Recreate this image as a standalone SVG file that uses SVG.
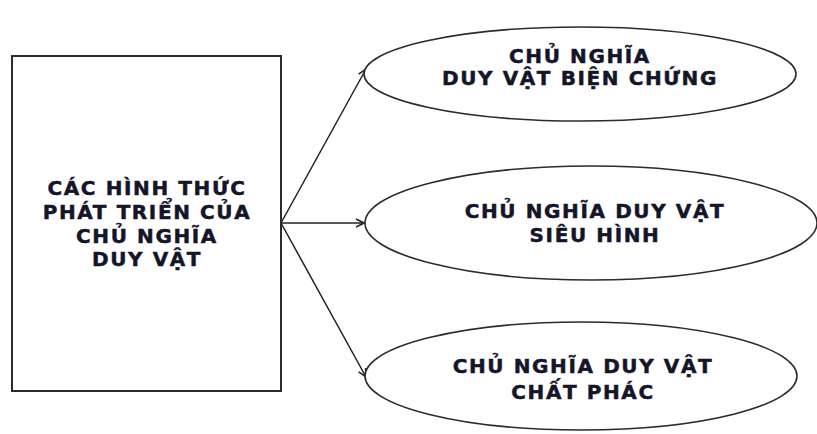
<svg xmlns="http://www.w3.org/2000/svg" width="817" height="434" viewBox="0 0 817 434">
  <style>
    .box { fill: #ffffff; stroke: #2b2b2b; stroke-width: 2; }
    .oval { fill: #ffffff; stroke: #2b2b2b; stroke-width: 1.6; }
    .label { font-family: "DejaVu Sans", Verdana, sans-serif; font-weight: bold; font-size: 20px; letter-spacing: 1.6px; fill: #15152a; stroke: #15152a; stroke-width: 0.5; text-anchor: middle; }
    .edge { fill: none; stroke: #222222; stroke-width: 1.5; marker-end: url(#arrow); }
  </style>
  <defs>
    <marker id="arrow" viewBox="0 0 10 10" refX="9" refY="5" markerWidth="10" markerHeight="10" markerUnits="userSpaceOnUse" orient="auto">
      <path d="M1,1 L9,5 L1,9" fill="none" stroke="#222222" stroke-width="1.6"/>
    </marker>
  </defs>

  <rect width="817" height="434" fill="#ffffff"/>

  <g id="connectors">
    <line class="edge" x1="281" y1="223" x2="366" y2="69"/>
    <line class="edge" x1="281" y1="223" x2="364" y2="223"/>
    <line class="edge" x1="281" y1="223" x2="366" y2="377"/>
  </g>

  <g id="root">
    <rect class="box" x="12" y="56" width="269" height="335"/>
    <text class="label" x="147" y="195">CÁC HÌNH THỨC</text>
    <text class="label" x="147" y="219">PHÁT TRIỂN CỦA</text>
    <text class="label" x="147" y="243">CHỦ NGHĨA</text>
    <text class="label" x="147" y="266">DUY VẬT</text>
  </g>

  <g id="dialectical">
    <ellipse class="oval" cx="580" cy="74" rx="216" ry="47"/>
    <text class="label" x="580" y="63">CHỦ NGHĨA</text>
    <text class="label" x="580" y="85">DUY VẬT BIỆN CHỨNG</text>
  </g>

  <g id="metaphysical">
    <ellipse class="oval" cx="591" cy="223" rx="226" ry="57"/>
    <text class="label" x="595" y="218">CHỦ NGHĨA DUY VẬT</text>
    <text class="label" x="595" y="242">SIÊU HÌNH</text>
  </g>

  <g id="naive">
    <ellipse class="oval" cx="581" cy="376" rx="216" ry="54"/>
    <text class="label" x="583" y="373">CHỦ NGHĨA DUY VẬT</text>
    <text class="label" x="583" y="399">CHẤT PHÁC</text>
  </g>
</svg>
